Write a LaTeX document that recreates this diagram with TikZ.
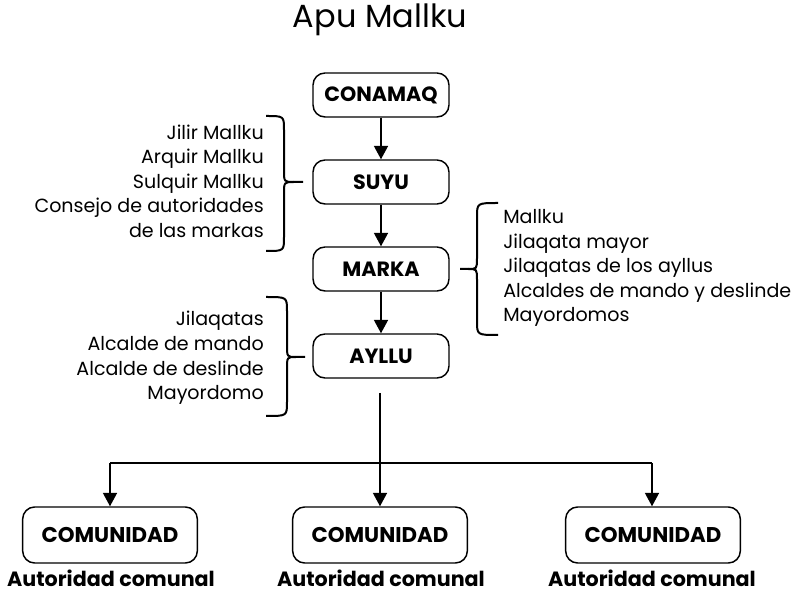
\documentclass[tikz,border=0pt]{standalone}
\usepackage{fontspec}
\setmainfont{Poppins}
\usetikzlibrary{arrows.meta}
\begin{document}
\begin{tikzpicture}[x=0.75pt,y=-0.75pt,
  box/.style={draw, line width=1.1pt, rounded corners=9pt, minimum width=102pt, minimum height=33pt, font=\fontsize{15.5}{18}\selectfont\bfseries, inner sep=0pt},
  cbox/.style={box, minimum width=131pt, minimum height=42pt, font=\fontsize{16}{18}\selectfont\bfseries},
  lst/.style={font=\fontsize{14.3}{18.4}\selectfont, inner sep=0pt},
  arr/.style={line width=1.1pt, -{Triangle[width=10.5pt,length=10pt]}},
  ln/.style={line width=1.1pt},
  brc/.style={line width=1.5pt},
  lab/.style={font=\fontsize{15.5}{18}\selectfont\bfseries, inner sep=0pt, anchor=base}]
\useasboundingbox (0,0) rectangle (797,595);
\node[font=\fontsize{24}{28}\selectfont, inner sep=0pt] (title) at (380,20) {Apu Mallku};
\node[box] (conamaq) at (381,95) {CONAMAQ};
\node[box] (suyu) at (381,182) {SUYU};
\node[box] (marka) at (381,269) {MARKA};
\node[box] (ayllu) at (381,356) {AYLLU};
\node[cbox] (com1) at (110,535) {COMUNIDAD};
\node[cbox] (com2) at (380,535) {COMUNIDAD};
\node[cbox] (com3) at (653,535) {COMUNIDAD};
\node[lab] (a1) at (111,586) {Autoridad comunal};
\node[lab] (a2) at (381,586) {Autoridad comunal};
\node[lab] (a3) at (652,586) {Autoridad comunal};
\draw[arr] (conamaq) -- (suyu);
\draw[arr] (suyu) -- (marka);
\draw[arr] (marka) -- (ayllu);
\coordinate (start) at (380,393);
\coordinate (hl) at (110,463);
\coordinate (hr) at (652,463);
\draw[arr] (start) -- (com2);
\draw[ln] (hl) -- (hr);
\draw[arr] (hl) -- (com1.north -| hl);
\draw[arr] (hr) -- (com3.north -| hr);
% lists
\node[lst, align=right, anchor=east] (l1) at (264,181) {Jilir Mallku\\Arquir Mallku\\Sulquir Mallku\\Consejo de autoridades\\de las markas};
\node[lst, align=left, anchor=west] (l2) at (503,268) {Mallku\\Jilaqata mayor\\Jilaqatas de los ayllus\\Alcaldes de mando y deslinde\\Mayordomos};
\node[lst, align=right, anchor=east] (l3) at (264,358) {Jilaqatas\\Alcalde de mando\\Alcalde de deslinde\\Mayordomo};
% braces
\draw[brc] (266,116) .. controls (284,116) .. (284,130) -- (284,170) .. controls (284,182) .. (294,182) -- (303,182);
\draw[brc] (266,251) .. controls (284,251) .. (284,237) -- (284,194) .. controls (284,182) .. (294,182);
\draw[brc] (498,203) .. controls (477,203) .. (477,217) -- (477,258) .. controls (477,269) .. (468,269) -- (460,269);
\draw[brc] (498,335) .. controls (477,335) .. (477,321) -- (477,280) .. controls (477,269) .. (468,269);
\draw[brc] (266,297) .. controls (287,297) .. (287,311) -- (287,345) .. controls (287,357) .. (296,357) -- (305,357);
\draw[brc] (266,416) .. controls (287,416) .. (287,402) -- (287,369) .. controls (287,357) .. (296,357);
\end{tikzpicture}
\end{document}
